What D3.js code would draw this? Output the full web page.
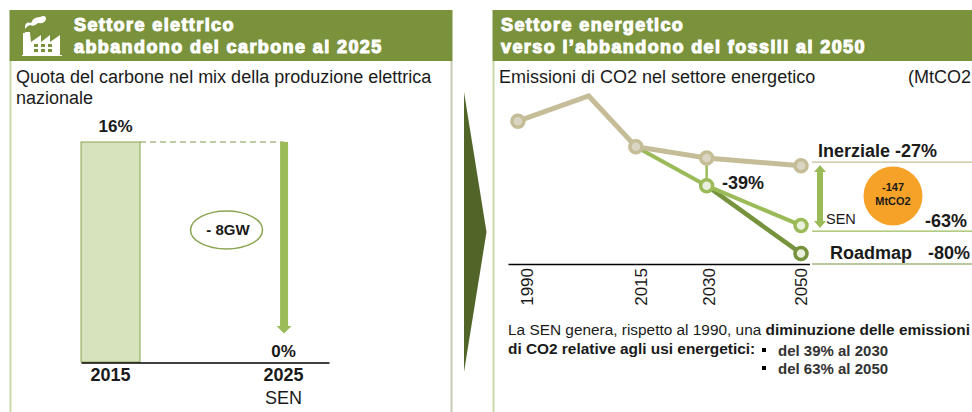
<!DOCTYPE html>
<html>
<head>
<meta charset="utf-8">
<script src="https://cdn.jsdelivr.net/npm/d3@7"></script>
<style>
html, body { margin: 0; padding: 0; background: #fff; overflow: hidden; }
svg { display: block; }
text { font-family: "Liberation Sans", Arial, sans-serif; fill: #1a1a1a; }
.head { font-size: 18px; font-weight: bold; fill: #fff; stroke: #fff; stroke-width: 1.1px; letter-spacing: 1.4px; }
.sub { font-size: 18px; }
.bold { font-weight: bold; }
</style>
</head>
<body>
<div id="chart"></div>
<script>
// left chart: share of coal
const coalYears = ["2015", "2025"];
const coalShare = [16, 0];
const coalLabels = ["16%", "0%"];

// right chart: CO2 emissions (MtCO2)
const inerzialeYears = [1990, 2005, 2015, 2030, 2050];
const inerzialeValues = [408, 470, 345, 317, 298];
const senYears = [2015, 2030, 2050];
const senValues = [345, 249, 151];
const roadmapYears = [2030, 2050];
const roadmapValues = [249, 82];
const emissionTicks = [1990, 2015, 2030, 2050];
const ruleValues = [307, 137, 56];

const green = "#7a923c", lightGreen = "#9bbb59", beige = "#c4bd97", darkGreen = "#76923c";

const svg = d3.select("#chart").append("svg").attr("width", 972).attr("height", 412);

function panel(x0, x1, rightColor) {
    svg.append("line").attr("x1", x0).attr("x2", x0).attr("y1", 61).attr("y2", 412)
        .attr("stroke", "#c9d9a6").attr("stroke-width", 2);
    if (rightColor) {
        svg.append("line").attr("x1", x1).attr("x2", x1).attr("y1", 61).attr("y2", 412)
            .attr("stroke", rightColor).attr("stroke-width", 2);
    }
    svg.append("rect").attr("x", x0 - 1).attr("y", 10).attr("width", x1 - x0 + 2).attr("height", 51).attr("fill", green);
}

panel(10.5, 451.5, "#c5ccb5");
panel(493.5, 980, null);

svg.append("g").selectAll("text")
    .data([[74, 31, "Settore elettrico"], [74, 53, "abbandono del carbone al 2025"],
           [501, 31, "Settore energetico"], [501, 53, "verso l\u2019abbandono dei fossili al 2050"]])
    .join("text").attr("class", "head").attr("x", d => d[0]).attr("y", d => d[1]).text(d => d[2]);

// factory icon
const icon = svg.append("g").attr("fill", "#fff");
icon.append("path").attr("d", "M23 55 V33 H25 V32 H30 V33 L31 42 L41 35 V42 L50 35 V42 L60 35 V55 H62 V56 H22 V55 Z");
icon.append("path").attr("d", "M25 26 Q26 21 31 23 Q33 17 40 17 Q46 14 46 19 Q45 24 38 23 Q34 27 30 25 Q27 26 25 29 Z");
icon.append("g").selectAll("rect")
    .data(d3.cross([34, 41, 48], [44, 49]))
    .join("rect").attr("x", d => d[0]).attr("y", d => d[1]).attr("width", 4).attr("height", 3).attr("fill", green);

// chevron between the panels
svg.append("path").attr("d", "M464 92 L486.5 232 L464 372 Z").attr("fill", "#526528");

// titles
svg.append("text").attr("class", "sub").attr("x", 16).attr("y", 83).text("Quota del carbone nel mix della produzione elettrica");
svg.append("text").attr("class", "sub").attr("x", 16).attr("y", 104).text("nazionale");
svg.append("text").attr("class", "sub").attr("x", 499).attr("y", 83).text("Emissioni di CO2 nel settore energetico");
svg.append("text").attr("class", "sub").attr("x", 908).attr("y", 83).text("(MtCO2");

// ---- left chart
const xCoal = d3.scaleBand().domain(coalYears).range([81, 329]).paddingInner(0.659).paddingOuter(0.046).align(0);
const yCoal = d3.scaleLinear().domain([0, 16]).range([362, 142]);

svg.append("g").selectAll("rect")
    .data(coalShare)
    .join("rect")
    .attr("x", (d, i) => xCoal(coalYears[i]))
    .attr("y", d => yCoal(d))
    .attr("width", xCoal.bandwidth())
    .attr("height", d => yCoal(0) - yCoal(d))
    .attr("fill", "#d7e3bc").attr("stroke", "#8aa552").attr("stroke-width", 1);

svg.append("g").selectAll("text")
    .data(coalLabels)
    .join("text").attr("class", "bold")
    .attr("x", (d, i) => xCoal(coalYears[i]) + xCoal.bandwidth() / 2 + (coalShare[i] ? 5 : 0))
    .attr("y", (d, i) => yCoal(coalShare[i]) - (coalShare[i] ? 10 : 5))
    .attr("text-anchor", "middle").attr("font-size", 17).text(d => d);

const axisCoal = svg.append("g").attr("transform", "translate(0,362.5)")
    .call(d3.axisBottom(xCoal).tickSize(0).tickPadding(6));
axisCoal.select(".domain").attr("stroke", "#000").attr("stroke-width", 1.5);
axisCoal.selectAll("text").attr("class", "bold").style("font-size", "18px").attr("dy", "0.71em");

svg.append("text").attr("x", xCoal("2025") + xCoal.bandwidth() / 2).attr("y", 404)
    .attr("text-anchor", "middle").attr("font-size", 18).text("SEN");

const coalX = xCoal("2025") + xCoal.bandwidth() / 2 + 0.5;
svg.append("line")
    .attr("x1", xCoal("2015") + xCoal.bandwidth()).attr("x2", coalX)
    .attr("y1", yCoal(16)).attr("y2", yCoal(16))
    .attr("stroke", "#7f9a48").attr("stroke-dasharray", "6,4");
svg.append("path")
    .attr("d", `M${coalX - 4} ${yCoal(16)} H${coalX + 4} V326 H${coalX + 7.5} L${coalX} 333.5 L${coalX - 7.5} 326 H${coalX - 4} Z`)
    .attr("fill", lightGreen);

svg.append("ellipse").attr("cx", 226.5).attr("cy", 230).attr("rx", 36).attr("ry", 19)
    .attr("fill", "#fff").attr("stroke", "#8aa552").attr("stroke-width", 1.5);
svg.append("text").attr("x", 228).attr("y", 235).attr("text-anchor", "middle").attr("font-size", 15).attr("font-weight", "bold").text("- 8GW");

// ---- right chart
const xYear = d3.scaleLinear().domain([1987.9, 2051.8]).range([508, 809.5]);
const yCo2 = d3.scaleLinear().domain([56, 470]).range([264, 96]);

const lineGen = years => d3.line().x((d, i) => xYear(years[i])).y(d => yCo2(d));

function drawSeries(years, values, color, width, fill, dotYears) {
    svg.append("path").attr("d", lineGen(years)(values))
        .attr("fill", "none").attr("stroke", color).attr("stroke-width", width);
    svg.append("g").selectAll("circle")
        .data(dotYears)
        .join("circle")
        .attr("cx", d => xYear(d))
        .attr("cy", d => yCo2(values[years.indexOf(d)]))
        .attr("r", 6)
        .attr("fill", fill).attr("stroke", color).attr("stroke-width", 3.5);
}

// connector from the inertial scenario down to SEN in 2030
svg.append("line").attr("x1", xYear(2030)).attr("x2", xYear(2030))
    .attr("y1", yCo2(317)).attr("y2", yCo2(249))
    .attr("stroke", lightGreen).attr("stroke-width", 2.5);

drawSeries(roadmapYears, roadmapValues, darkGreen, 4.5, "#ebf0de", [2050]);
drawSeries(senYears, senValues, lightGreen, 4, "#ebf0de", [2030, 2050]);
drawSeries(inerzialeYears, inerzialeValues, beige, 5, "#d9d5c2", [1990, 2015, 2030, 2050]);

// labels sit a little right of their points in the original
const tickNudge = { 1990: 9, 2015: 5, 2030: 2, 2050: 0 };
const axisYear = svg.append("g").attr("transform", "translate(0,264)")
    .call(d3.axisBottom(xYear).tickValues(emissionTicks).tickFormat(d3.format("d")).tickSize(0).tickSizeOuter(0));
axisYear.select(".domain").attr("stroke", "#000").attr("stroke-width", 1.5);
axisYear.selectAll("text")
    .style("font-size", "17px")
    .attr("text-anchor", "end")
    .attr("transform", "rotate(-90)")
    .attr("x", -4).attr("y", d => tickNudge[d]).attr("dy", "0.35em");

// scenario rules and labels
const ruleColors = [beige, lightGreen, darkGreen];
svg.append("g").selectAll("line")
    .data(ruleValues)
    .join("line")
    .attr("x1", 812).attr("x2", 972)
    .attr("y1", d => yCo2(d)).attr("y2", d => yCo2(d))
    .attr("stroke", (d, i) => ruleColors[i]).attr("stroke-width", 1.2);

svg.append("text").attr("class", "bold").attr("x", 818).attr("y", 157).attr("font-size", 18).text("Inerziale -27%");
svg.append("text").attr("x", 826).attr("y", 224).attr("font-size", 14.5).text("SEN");
svg.append("text").attr("class", "bold").attr("x", 925).attr("y", 227).attr("font-size", 18).text("-63%");
svg.append("text").attr("class", "bold").attr("x", 830).attr("y", 259).attr("font-size", 18).text("Roadmap");
svg.append("text").attr("class", "bold").attr("x", 928).attr("y", 259).attr("font-size", 18).text("-80%");
svg.append("text").attr("class", "bold").attr("x", 722).attr("y", 189).attr("font-size", 18).text("-39%");

const arrowX = 820;
svg.append("path")
    .attr("d", `M${arrowX} 165 L${arrowX + 6} 172 H${arrowX + 3} V221 H${arrowX + 6} L${arrowX} 228 L${arrowX - 6} 221 H${arrowX - 3} V172 H${arrowX - 6} Z`)
    .attr("fill", lightGreen);

svg.append("circle").attr("cx", 893).attr("cy", 196).attr("r", 29.5).attr("fill", "#f6a229");
svg.append("text").attr("class", "bold").attr("x", 893).attr("y", 191).attr("text-anchor", "middle").attr("font-size", 11).text("-147");
svg.append("text").attr("class", "bold").attr("x", 893).attr("y", 205).attr("text-anchor", "middle").attr("font-size", 11).text("MtCO2");

// note under the chart
const note = svg.append("text").attr("x", 508).attr("y", 335).attr("font-size", 15.4);
note.append("tspan").text("La SEN genera, rispetto al 1990, una ");
note.append("tspan").attr("font-weight", "bold").text("diminuzione delle emissioni");
svg.append("text").attr("class", "bold").attr("x", 508).attr("y", 354).attr("font-size", 15.4).text("di CO2 relative agli usi energetici:");
svg.append("g").selectAll("rect")
    .data([348, 366])
    .join("rect").attr("x", 762).attr("y", d => d).attr("width", 4).attr("height", 4).attr("fill", "#000");
svg.append("g").selectAll("text")
    .data([[356, "del 39% al 2030"], [374, "del 63% al 2050"]])
    .join("text").attr("x", 778).attr("y", d => d[0]).attr("font-size", 15).attr("font-weight", "bold").style("fill", "#333").text(d => d[1]);
</script>
</body>
</html>
